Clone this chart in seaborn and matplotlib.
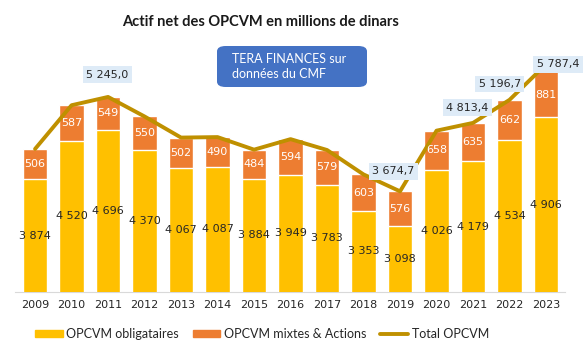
import matplotlib
matplotlib.use('Agg')
import matplotlib.pyplot as plt
from matplotlib.patches import Patch, FancyBboxPatch
from matplotlib.lines import Line2D
import seaborn as sns
import pandas as pd

# data (millions de dinars)
years = ['2009', '2010', '2011', '2012', '2013', '2014', '2015', '2016',
         '2017', '2018', '2019', '2020', '2021', '2022', '2023']
obligataires = [3874, 4520, 4696, 4370, 4067, 4087, 3884, 3949,
                3783, 3353, 3098, 4026, 4179, 4534, 4906]
mixtes = [506, 587, 549, 550, 502, 490, 484, 594,
          579, 603, 576, 658, 635, 662, 881]
total = [4380, 5107, 5245.0, 4920, 4569, 4577, 4368, 4543,
         4362, 3956, 3674.7, 4684, 4813.4, 5196.7, 5787.4]
total_labels = {'2011': '5 245,0', '2019': '3 674,7', '2021': '4 813,4',
                '2022': '5 196,7', '2023': '5 787,4'}

df = pd.DataFrame({'annee': years, 'oblig': obligataires,
                   'mixtes': mixtes, 'total': total})

YELLOW = '#FFC000'
ORANGE = '#ED7D31'
GOLD = '#BF9000'
YMIN, YMAX = 2000, 5660

sns.set_style('white')
plt.rcParams['font.family'] = ['DejaVu Sans']

fig = plt.figure(figsize=(5.83, 3.58), dpi=100)
ax = fig.add_axes([15 / 583, 66 / 358, 550 / 583, 220 / 358])

# stacked bars: orange full height, yellow drawn over it
sns.barplot(data=df, x='annee', y='total', color=ORANGE, width=0.68,
            saturation=1, ax=ax, zorder=2)
sns.barplot(data=df, x='annee', y='oblig', color=YELLOW, width=0.68,
            saturation=1, ax=ax, zorder=3)
sns.lineplot(x=list(range(len(years))), y=df['total'], color=GOLD,
             linewidth=2.8, ax=ax, zorder=5)

ax.set_ylim(YMIN, YMAX)
ax.set_xlim(-0.55, 14.52)
ax.set_xlabel('')
ax.set_ylabel('')
ax.set_yticks([])
for s in ['left', 'right', 'top']:
    ax.spines[s].set_visible(False)
ax.spines['bottom'].set_color('#D9D9D9')
ax.set_xticks([i - 0.5 for i in range(len(years) + 1)], minor=True)
ax.tick_params(axis='x', which='major', length=0, pad=6, labelsize=8,
               labelcolor='#262626')
ax.tick_params(axis='x', which='minor', length=4, color='#D9D9D9', width=0.8)

# segment labels
for i, row in df.iterrows():
    ax.text(i, (YMIN + row['oblig']) / 2, f"{row['oblig']:,}".replace(',', ' '),
            ha='center', va='center', fontsize=8, color='#262626', zorder=6)
    top = min(row['total'], YMAX)
    ax.text(i, (row['oblig'] + top) / 2, str(row['mixtes']),
            ha='center', va='center', fontsize=8, color='white', zorder=6)

# total labels with their hand-placed offsets (points)
offsets = {'2011': (-0.7, 16), '2019': (-5, 14.5), '2021': (-4.3, 11),
           '2022': (-7, 11.5), '2023': (8.6, 0)}
for yr, txt in total_labels.items():
    i = years.index(yr)
    ax.annotate(txt, (i, total[i]), xytext=offsets[yr], textcoords='offset points',
                ha='center', va='center', fontsize=8, color='#262626',
                annotation_clip=False, zorder=7,
                bbox=dict(boxstyle='square,pad=0.3', fc='#DEEBF7', ec='none'))

fig.text(261 / 583, 1 - 22 / 358, 'Actif net des OPCVM en millions de dinars',
         ha='center', va='center', fontsize=10.5, fontweight='bold',
         family='Lato', color='#1a1a1a')

# source box
box = FancyBboxPatch((217 / 583, 1 - 87 / 358), 150 / 583, 41 / 358,
                     boxstyle='round,pad=0,rounding_size=0.015',
                     transform=fig.transFigure, fc='#4472C4', ec='none')
fig.patches.append(box)
fig.text(232 / 583, 1 - 66.5 / 358, 'TERA FINANCES sur\ndonnées du CMF',
         ha='left', va='center', fontsize=9, color='white', family='Lato',
         linespacing=1.25)

handles = [Patch(color=YELLOW), Patch(color=ORANGE),
           Line2D([0], [0], color=GOLD, linewidth=2.8)]
fig.legend(handles, ['OPCVM obligataires', 'OPCVM mixtes & Actions', 'Total OPCVM'],
           loc='center', bbox_to_anchor=(262 / 583, 1 - 334 / 358), ncol=3,
           frameon=False, prop={'family': 'Lato', 'size': 9},
           handlelength=2.2, handleheight=0.5, handletextpad=0.3,
           columnspacing=1.1, labelcolor='#262626')

fig.savefig('out.png', dpi=100)
